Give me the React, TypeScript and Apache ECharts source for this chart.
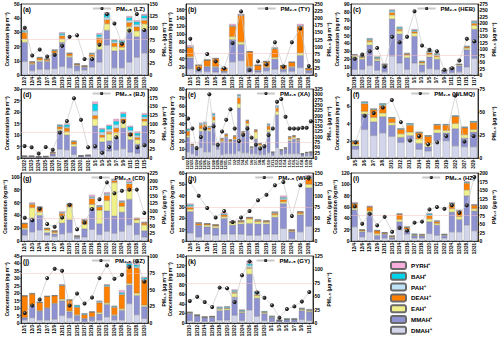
import React, { useEffect, useRef } from "react";
import * as echarts from "echarts";

// ---------- data ----------
const lzCats = ["12/2","12/4","12/6","12/7","12/9","12/10","12/11","12/13","12/15","12/16","12/18","12/21","12/22","12/23","12/26","12/28","12/30"];
const lzDMAH = [9.5,3,4,4,4.5,6,5,3,3.5,5.5,9,21,5,5,9,12.5,15.5];
const lzMMAH = [13.5,4.5,5.5,5.5,10.5,17,7.5,3.5,2,6.5,9,10.5,12,12.5,21,14.5,16.5];
const lzEAH = [2.5,0.5,1,0.5,0.5,2.5,1,0.5,0.4,1,4,4.5,3,2,4,4,4];
const lzDEAH = [4.5,1,1.5,1,1.5,2,1.5,0.7,0.5,1.5,4,3,2.5,3,3,3,2.5];
const lzPAH = [0.5,0.2,0.2,0.2,0.3,0.8,0.2,0.1,0.05,0.4,1,1.5,1,0.5,1.5,1.5,1.5];
const lzBAH = [0.8,0.2,0.2,0.2,0.4,1,0.2,0.1,0.05,0.4,1.5,2.5,1,1,2,2,2];
const lzPYRH = [0.7,0.1,0.1,0.1,0.3,0.7,0.1,0.1,0,0.2,1,1,0.5,0.5,1,1,1];
const lzPM = [100,41,54,39,43,62,81,84,34,34,64,129,109,66,94,129,95];

const tyCats = ["12/1","12/3","12/5","12/6","12/8","12/10","12/12","12/14","12/16","12/18","12/20","12/22","12/24","12/26","12/28"];
const tyDMAH = [15,8,8,7,6,32,35,7,7,10,14,8,9,18,5];
const tyMMAH = [27,5,12,12,3,55,40,12,4,8,25,6,10,30,6];
const tyEAH = [3,1,1.5,2,0.5,7,6,2,1,2,4,1,2,6,1];
const tyDEAH = [22,10,15,19,7,25,65,36,12,13,21,8,10,65,4];
const tyPAH = [1,0,0.2,0.3,0.1,1,1,0.2,0,0.2,1,0,0.3,1,0];
const tyBAH = [1,0,0.2,0.3,0.1,1,1,0.2,0,0.2,1,0,0.3,1,0];
const tyPYRH = [4,0.5,0.5,1,0.3,4,2,0.5,0.3,0.5,2,0.3,0.8,4,0.3];
const tyPM = [128,21,74,48,24,113,224,18,48,38,115,30,115,164,32];

const hebCats = ["12/18","12/20","12/22","12/24","12/26","12/27","12/29","12/31","1/1","1/3","1/5","1/7","1/9","1/11","1/13","1/15","1/17"];
const hebDMAH = [7,7,12,6,4,24,15,7,15,4,8,7,2,3,4,10,21];
const hebMMAH = [15,13,26,12,8,47,37,15,34,9,15,13,3,4.5,7.5,22,37];
const hebEAH = [2,2,4,2,1,5,4,3,4,2,3,3,0.5,0.7,1,2,5];
const hebDEAH = [1,1,2,1,0.5,3,2,1.5,2,1.5,2,2,0.3,0.5,0.8,1.5,2.5];
const hebPAH = [0.5,0.5,1,0.8,0.2,1.5,1,0.5,1,0.5,1,1,0.1,0.2,0.2,0.5,1];
const hebBAH = [0.5,0.5,1,1,0.2,1.5,1.5,0.5,1,0.5,1,1,0.1,0.1,0.2,0.5,1.5];
const hebPYRH = [0.3,0.2,0.8,0.4,0.1,1,0.6,0.4,1,0.3,0.5,0.5,0,0,0.1,0.3,1];
const hebPM = [63,79,92,105,33,148,127,148,247,114,98,92,20,26,56,140,131];

const bjCats = ["12/22","12/23","12/24","12/25","12/26","12/27","12/28","12/29","12/30","12/31","1/1","1/3","1/5","1/7","1/9","1/11","1/13","1/15"];
const bjDMAH = [0.3,0.3,0.2,0.3,0.8,3.8,3.5,1.5,0.4,0.5,4,2,3,3.5,4,2.5,2,5];
const bjMMAH = [0.4,0.4,0.3,0.3,1,8,6.5,3.5,0.5,0.6,10,5,4.5,5.5,9,5.5,4,9];
const bjEAH = [0.05,0.05,0.05,0.05,0.2,0.8,1.5,1,0.05,0.05,3,2,3,2,2.5,1.5,2,2];
const bjDEAH = [0.05,0.05,0.05,0.05,0.4,1,1.5,1,0.05,0.05,1.5,1,1,2,1.5,1.5,1,1];
const bjPAH = [0,0,0,0,0.05,0.2,0.5,0.2,0,0,2,1,1,1.5,0.8,1,0.8,0.8];
const bjBAH = [0,0,0,0,0.05,0.5,1,0.2,0,0,3,1.5,1.5,1.5,1.5,1.5,1,1];
const bjPYRH = [0,0,0,0,0,0.2,0.5,0.1,0,0,1,0.5,0.5,1,0.7,0.5,0.7,0.7];
const bjPM = [35,31,13,32,24,74,107,173,111,31,34,15,32,60,105,68,31,37];

const xaCats = ["12/22","12/23","12/24","12/25","12/26","12/27","12/28","12/29","12/30","12/31","1/1","1/2","1/3","1/4","1/5","1/6","1/7","1/8","1/9","1/10","1/11","1/12","1/13","1/14","1/15","1/16","1/17","1/18","1/19","1/20"];
const xaDMAH = [7,5,3,12,7,7,15,10,4,5,5,5,8,6,6,5,5,4,4,6,3,12,4,5,5,5,5,2,2.5,2.5];
const xaMMAH = [17,9,6,19,25,24,26,5,15,19,14,16,50,20,31,6,17,9,8,24,3,38,4.5,5.5,15,17,15,2.5,3,3.5];
const xaEAH = [2,0.5,0.3,3,3,2,3,0.5,1,1,0.5,1,5,2,3,1,8,2,2,3,0.5,4,0.5,0.5,2,2,1,0.3,0.5,0.5];
const xaDEAH = [5,1,0.5,4,4,2,4,0.5,2,2,1.5,3,7,2,3,0.5,2,1.5,0.5,4,0.3,4,0.5,0.5,2,1.5,1,0.2,0.5,0.5];
const xaPAH = [1,0.2,0.1,1,1,1,1.5,0,0.5,0.5,0,0.5,2,0.5,0.5,0.2,0.5,0.2,0.2,1,0,1,0,0.2,0.5,0.3,0.3,0,0,0];
const xaBAH = [1.5,0.2,0.1,1,1,0.5,1.5,0,0.3,0.3,0,0.3,1,0.3,0.3,0.2,0.3,0.2,0.2,1,0,1,0,0.2,0.3,0.1,0.1,0,0,0];
const xaPYRH = [0.5,0.1,0,1,1,0.5,1,0,0.2,0.2,0,0.2,1,0.2,0.2,0.1,0.2,0.1,0.1,1,0,1,0,0.1,0.2,0.1,0.1,0,0,0];
const xaPM = [186,139,47,99,139,300,150,62,125,180,230,139,80,110,139,96,63,45,55,108,139,265,278,194,139,139,139,142,142,173];

const wlmqCats = ["3/5","3/6","3/7","3/8","3/10","3/12","3/13","3/14","3/16","3/18","3/19","3/22","3/27","3/29"];
const wlmqDMAH = [1.0,3.3,2.6,2.9,2.5,1.8,2.0,1.0,0.8,2.0,2.0,1.4,1.3,1.3];
const wlmqMMAH = [0.4,1.8,1.6,1.9,1.3,0.6,0.6,0.7,0.5,0.9,0.9,2.0,1.0,1.7];
const wlmqEAH = [0.2,0.3,0.5,0.4,0.3,0.4,0.4,0.5,0.3,0.4,0.3,0.6,0.4,0.3];
const wlmqDEAH = [0.3,0.9,0.9,0.9,0.5,0.5,0.8,0.7,0.9,0.5,0.6,0.8,0.8,0.8];
const wlmqPAH = [0.05,0.1,0.05,0.1,0.05,0.05,0.1,0.05,0.05,0.05,0.05,0.05,0.05,0.05];
const wlmqBAH = [0.05,0.1,0.05,0.1,0.05,0.05,0.1,0.05,0.05,0.05,0.05,0.05,0.05,0.1];
const wlmqPYRH = [0,0.05,0,0,0,0,0,0,0,0,0,0,0,0];
const wlmqPM = [17,46,49,55,63,39,19,24,15,17,24,68,18,24];

const cdCats = ["12/1","12/3","12/4","12/6","12/7","12/8","12/10","12/12","12/14","12/16","12/18","12/20","12/22","12/24","12/26","12/28","12/30"];
const cdDMAH = [9,14,17,9,7,11,13,4,6,18,10,15,12,15,25,10,6];
const cdMMAH = [9,22,23,4,4,17,20,2,13,33,17,32,27,30,40,18,10];
const cdEAH = [2,16,5,4,2,11,20,1,7,6,21,16,52,9,13,5,9];
const cdDEAH = [7,5,7,2.5,2.5,4,4,0.7,6,9,5,8,3,6,11,1.5,3];
const cdPAH = [0.3,1,0.5,0.2,0.2,1,0.5,0.1,0.5,2,1,2,1,1,2,0.5,0.5];
const cdBAH = [0.3,0.5,0.5,0.2,0.2,0.5,0.3,0.1,0.5,1,1,1,1,1,1,0.5,0.5];
const cdPYRH = [0.4,1.5,1,0.1,0.1,1.5,0.2,0.1,1,3,1,2,1,1,3,0.5,1];
const cdPM = [77,69,107,56,47,78,120,39,61,106,138,194,158,166,170,170,93];

const whCats = ["12/6","12/7","12/9","12/11","12/12","12/13","12/14","12/16","12/18","12/19","12/21","12/22","12/24","12/26","12/28"];
const whDMAH = [7,3.5,6,5,6,6,6,5,5,6,6,11,2,8,13];
const whMMAH = [19,10,6.5,6.5,14,8,9,10.5,10,9,15,22,6,15,34];
const whEAH = [2,0.5,1.5,1.5,1.5,2,1.5,4,2,1.5,2,1.5,0.5,1,3];
const whDEAH = [2,1.5,1,1,1.5,1,1,1,1,1,1.5,2,1,1.5,5];
const whPAH = [1,0.3,0.2,0.2,0.5,0,0.2,0.2,0.4,0.2,0.5,1,0.2,0.2,1];
const whBAH = [1,0.3,0.2,0.2,0.5,0,0.2,0.2,0.3,0.2,0.5,1,0.2,0.2,0.5];
const whPYRH = [1,0.4,0.1,0.1,1,0,0.1,0.1,0.3,0.1,0.5,1.5,0.1,0.1,1.5];
const whPM = [130,100,73,52,66,42,52,66,90,102,123,130,55,123,140];

const hzCats = ["12/4","12/6","12/8","12/9","12/11","12/13","12/14","12/16","12/17","12/18","12/20","12/21","12/22","12/24","12/26","12/28","12/31"];
const hzDMAH = [25,7,16,3,5,3,20,12,5,5,13,10,5,16,16,28,18];
const hzMMAH = [30,9,33,7,7,3,14,6,4,4,21,18,5,35,22,52,35];
const hzEAH = [3,1.5,4,3,1,1,4,2,1,1,5,3,1,6,5,10,4];
const hzDEAH = [8,2,7,5,1.5,1.5,9,4,1,1,6,3,0.5,8,10,12,6];
const hzPAH = [0.5,0.2,0.5,0.3,0.2,0.2,0.5,0.4,0.5,0.4,1,1,0.2,1,0.5,1,0.5];
const hzBAH = [0.5,0.2,0.5,0.3,0.2,0.2,0.5,0.3,1,0.4,2,0.5,0.2,1,0.5,1,0.5];
const hzPYRH = [1,0.1,1,0.4,0.1,0.1,0,0.3,0.5,0.2,1,0.5,0.1,1,1,1,1];
const hzPM = [102,51,80,46,71,27,39,31,54,57,93,100,95,105,83,105,188];

const gzCats = ["12/1","12/3","12/5","12/7","12/9","12/11","12/13","12/15","12/17","12/19","12/21","12/23","12/24","12/26","12/27","12/28","12/30"];
const gzDMAH = [2,3.5,2,2,2.5,5,3.5,1.5,0.8,1.5,2,4,2,2,13,5.5,3];
const gzMMAH = [1.5,8,6,8,10.5,10,4,3.5,2,2.5,4,8.5,3,6.5,12.5,13,8];
const gzEAH = [0.2,0.5,0.3,0.3,0.3,1,0.5,0.5,0.2,0.3,1,1,0.5,1,1,1.5,1];
const gzDEAH = [14.5,7.5,5.5,7.5,5,9,7.5,5,2.5,3,6.5,11,5,9.5,11,17,17];
const gzPAH = [0,0.2,0.1,0.1,0.1,0.3,0,0.3,0.3,0.1,0.5,0.5,0.4,0.5,1,0.8,0.5];
const gzBAH = [0.1,0.2,0.1,0.1,0.1,0.3,0,1,0.5,0.1,0.5,0.5,0.4,1,1.5,1.2,1];
const gzPYRH = [0.2,0.1,0,0,0,0.4,0,0.2,0.2,0,0.5,0.5,0.2,1.5,1,1,0.5];
const gzPM = [15,26,35,67,81,78,26,44,29,38,67,86,66,72,84,92,62];

const gyCats = ["12/10","12/12","12/14","12/16","12/18","12/20","12/22","12/24","12/26","12/28","12/30","1/1","1/3","1/5","1/7","1/9","1/11"];
const gyDMAH = [5,3,3,3,6,6,16,5,27,14,5,3,2,2,2,7,5];
const gyMMAH = [15,12,8,9,20,21,38,16,75,38,14,8,3,5,5,19,18];
const gyEAH = [1,0.5,0.5,0.5,3,3,8,2,12,5,2,1,0.3,0.5,0.5,2,2];
const gyDEAH = [1,1,1,1,1,1,2,1,2,2,1,0.5,0.3,0.2,0.3,1,1];
const gyPAH = [0.3,0.2,0.2,0.2,1.5,1.5,2,1.5,4,3,1,1,0.2,0.3,0.3,1,1];
const gyBAH = [0.3,0.2,0.2,0.2,1.5,1.5,2,1.5,4,3,1,1,0.2,1,1,1,1];
const gyPYRH = [0.4,0.1,0.1,0.1,1,1,2,1,6,2,0.5,0.5,0,0,0,0.5,1];
const gyPM = [41,49,39,30,66,65,39,89,115,57,47,33,10,26,31,40,58];

const compNames = ["DMAH⁺","MMAH⁺","EAH⁺","DEAH⁺","PAH⁺","BAH⁺","PYRH⁺"];
const compColors = ["#d3d6eb","#8f92d0","#f1f18b","#ff8000","#bfe3f6","#00d3ea","#f8aedc"];
const legendOrder = ["PYRH⁺","BAH⁺","PAH⁺","DEAH⁺","EAH⁺","MMAH⁺","DMAH⁺"];

const panels = [
  { tag: "(a)", city: "LZ", cats: lzCats, pm: lzPM, comps: [lzDMAH, lzMMAH, lzEAH, lzDEAH, lzPAH, lzBAH, lzPYRH], lMax: 50, lInt: 10, rMax: 150 },
  { tag: "(b)", city: "TY", cats: tyCats, pm: tyPM, comps: [tyDMAH, tyMMAH, tyEAH, tyDEAH, tyPAH, tyBAH, tyPYRH], lMax: 174, lInt: 20, rMax: 250 },
  { tag: "(c)", city: "HEB", cats: hebCats, pm: hebPM, comps: [hebDMAH, hebMMAH, hebEAH, hebDEAH, hebPAH, hebBAH, hebPYRH], lMax: 90, lInt: 10, rMax: 275 },
  { tag: "(d)", city: "BJ", cats: bjCats, pm: bjPM, comps: [bjDMAH, bjMMAH, bjEAH, bjDEAH, bjPAH, bjBAH, bjPYRH], lMax: 30, lInt: 5, rMax: 200 },
  { tag: "(e)", city: "XA", cats: xaCats, pm: xaPM, comps: [xaDMAH, xaMMAH, xaEAH, xaDEAH, xaPAH, xaBAH, xaPYRH], lMax: 80, lInt: 10, rMax: 325 },
  { tag: "(f)", city: "WLMQ", cats: wlmqCats, pm: wlmqPM, comps: [wlmqDMAH, wlmqMMAH, wlmqEAH, wlmqDEAH, wlmqPAH, wlmqBAH, wlmqPYRH], lMax: 8, lInt: 2, rMax: 75 },
  { tag: "(g)", city: "CD", cats: cdCats, pm: cdPM, comps: [cdDMAH, cdMMAH, cdEAH, cdDEAH, cdPAH, cdBAH, cdPYRH], lMax: 106, lInt: 20, rMax: 225 },
  { tag: "(h)", city: "WH", cats: whCats, pm: whPM, comps: [whDMAH, whMMAH, whEAH, whDEAH, whPAH, whBAH, whPYRH], lMax: 60, lInt: 10, rMax: 150 },
  { tag: "(i)", city: "HZ", cats: hzCats, pm: hzPM, comps: [hzDMAH, hzMMAH, hzEAH, hzDEAH, hzPAH, hzBAH, hzPYRH], lMax: 120, lInt: 20, rMax: 200 },
  { tag: "(j)", city: "GZ", cats: gzCats, pm: gzPM, comps: [gzDMAH, gzMMAH, gzEAH, gzDEAH, gzPAH, gzBAH, gzPYRH], lMax: 45, lInt: 5, rMax: 100 },
  { tag: "(k)", city: "GY", cats: gyCats, pm: gyPM, comps: [gyDMAH, gyMMAH, gyEAH, gyDEAH, gyPAH, gyBAH, gyPYRH], lMax: 140, lInt: 20, rMax: 125 },
];

// ---------- layout ----------
const colLefts = [21, 186, 351];
const plotW = 127;
const rowTops = [4, 89, 173, 256];
const rowHeights = [71, 69, 68, 67];
const FONT = "'Liberation Sans', Arial, sans-serif";

function buildOption() {
  const grid: any[] = [];
  const xAxis: any[] = [];
  const yAxis: any[] = [];
  const series: any[] = [];
  const legend: any[] = [];
  const graphic: any[] = [];

  const ball = new echarts.graphic.RadialGradient(0.35, 0.35, 0.65, [
    { offset: 0, color: "#ffffff" },
    { offset: 0.2, color: "#555555" },
    { offset: 1, color: "#000000" },
  ]);

  panels.forEach((p, i) => {
    const col = i % 3;
    const row = Math.floor(i / 3);
    const left = colLefts[col];
    const top = rowTops[row];
    const height = rowHeights[row];
    grid.push({ left, top, width: plotW, height, show: true, borderColor: "#000", borderWidth: 0.7, backgroundColor: "transparent" });
    xAxis.push({
      gridIndex: i,
      type: "category",
      data: p.cats,
      axisLine: { lineStyle: { color: "#000", width: 0.7 } },
      axisTick: { show: true, length: 1.5, alignWithLabel: true, lineStyle: { color: "#000", width: 0.5 } },
      axisLabel: { rotate: 90, interval: 0, fontSize: p.cats.length > 20 ? 3.8 : 4.5, fontWeight: "bold", color: "#000", margin: 2, fontFamily: FONT },
    });
    yAxis.push({
      gridIndex: i,
      type: "value",
      position: "left",
      min: 0,
      max: p.lMax,
      interval: p.lInt,
      name: "Concentration (ng m⁻³)",
      nameLocation: "middle",
      nameGap: 12,
      nameTextStyle: { fontSize: 5, fontWeight: "bold", color: "#000", fontFamily: FONT },
      axisLine: { show: true, lineStyle: { color: "#000", width: 0.7 } },
      axisTick: { show: true, length: 1.5, lineStyle: { color: "#000", width: 0.5 } },
      axisLabel: { fontSize: 5, fontWeight: "bold", color: "#000", margin: 1.5, fontFamily: FONT, showMaxLabel: p.lMax % p.lInt === 0 },
      splitLine: { show: false },
    });
    yAxis.push({
      gridIndex: i,
      type: "value",
      position: "right",
      min: 0,
      max: p.rMax,
      interval: 25,
      name: "PM₂.₅ (μg m⁻³)",
      nameLocation: "middle",
      nameGap: 13,
      nameTextStyle: { fontSize: 5, fontWeight: "bold", color: "#000", fontFamily: FONT },
      axisLine: { show: true, lineStyle: { color: "#000", width: 0.7 } },
      axisTick: { show: true, length: 1.5, lineStyle: { color: "#000", width: 0.5 } },
      axisLabel: { fontSize: 5, fontWeight: "bold", color: "#000", margin: 1.5, fontFamily: FONT },
      splitLine: { show: false },
    });
    p.comps.forEach((arr, k) => {
      series.push({
        type: "bar",
        name: compNames[k],
        xAxisIndex: i,
        yAxisIndex: 2 * i,
        stack: "s" + i,
        data: arr,
        barCategoryGap: "22%",
        itemStyle: { color: compColors[k], borderColor: "#6a6a6a", borderWidth: 0.25 },
        emphasis: { disabled: true },
      });
    });
    const pmName = "PM₂.₅ (" + p.city + ")";
    series.push({
      type: "line",
      name: pmName,
      xAxisIndex: i,
      yAxisIndex: 2 * i + 1,
      data: p.pm,
      z: 5,
      symbol: "circle",
      symbolSize: 4,
      showAllSymbol: true,
      lineStyle: { color: "#c8c8c8", width: 0.7 },
      itemStyle: { color: ball, borderWidth: 0 },
      emphasis: { disabled: true },
      markLine: {
        silent: true,
        symbol: "none",
        label: { show: false },
        lineStyle: { color: "#f6c0c0", width: 0.5, type: "solid" },
        data: [{ yAxis: 75 }],
      },
    });
    legend.push({
      data: [pmName],
      top: top + 1.5,
      right: 500 - (left + plotW) + 3,
      padding: 0,
      itemWidth: 18,
      itemHeight: 4,
      itemGap: 2,
      textStyle: { fontSize: 6, fontWeight: "bold", color: "#000", fontFamily: FONT },
    });
    graphic.push({
      type: "text",
      left: left + 2,
      top: top + 2,
      style: { text: p.tag, fontSize: 6.5, fontWeight: "bold", fill: "#000", fontFamily: FONT },
    });
  });

  legend.push({
    data: legendOrder,
    orient: "vertical",
    left: 390,
    top: 261,
    padding: 0,
    itemWidth: 15,
    itemHeight: 7,
    itemGap: 1.8,
    textStyle: { fontSize: 6.2, fontWeight: "bold", color: "#000", fontFamily: FONT },
  });

  return {
    animation: false,
    backgroundColor: "#fff",
    textStyle: { fontFamily: FONT },
    grid,
    xAxis,
    yAxis,
    series,
    legend,
    graphic,
  };
}

export default function App() {
  const ref = useRef<HTMLDivElement>(null);
  useEffect(() => {
    document.body.style.margin = "0";
    if (!ref.current) return;
    const chart = echarts.init(ref.current, null, { renderer: "svg" });
    chart.setOption(buildOption() as any);
    return () => chart.dispose();
  }, []);
  return <div ref={ref} style={{ width: 500, height: 341, position: "absolute", left: 0, top: 0 }} />;
}
